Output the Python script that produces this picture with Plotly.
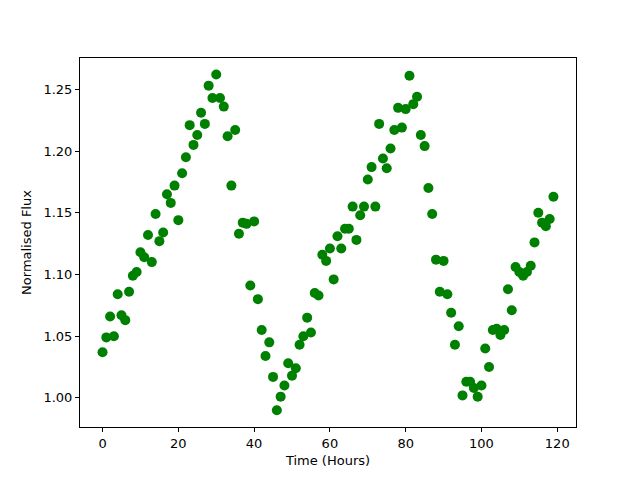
import plotly.graph_objects as go

hours = list(range(120))
flux = [
    1.037, 1.049, 1.066, 1.050, 1.084, 1.067, 1.063, 1.086, 1.099, 1.102,
    1.118, 1.114, 1.132, 1.110, 1.149, 1.127, 1.134, 1.165, 1.158, 1.172,
    1.144, 1.182, 1.195, 1.221, 1.205, 1.213, 1.231, 1.222, 1.253, 1.243,
    1.262, 1.243, 1.236, 1.212, 1.172, 1.217, 1.133, 1.142, 1.141, 1.091,
    1.143, 1.080, 1.055, 1.034, 1.045, 1.017, 0.990, 1.001, 1.010, 1.028,
    1.018, 1.024, 1.043, 1.050, 1.065, 1.053, 1.085, 1.083, 1.116, 1.111,
    1.121, 1.096, 1.131, 1.121, 1.137, 1.137, 1.155, 1.128, 1.148, 1.155,
    1.177, 1.187, 1.155, 1.222, 1.194, 1.186, 1.202, 1.217, 1.235, 1.219,
    1.234, 1.261, 1.238, 1.244, 1.213, 1.204, 1.170, 1.149, 1.112, 1.086,
    1.111, 1.084, 1.069, 1.043, 1.058, 1.002, 1.013, 1.013, 1.008, 1.001,
    1.010, 1.040, 1.025, 1.055, 1.056, 1.051, 1.055, 1.088, 1.071, 1.106,
    1.102, 1.099, 1.102, 1.107, 1.126, 1.150, 1.142, 1.139, 1.145, 1.163,
]
x_ticks = [0, 20, 40, 60, 80, 100, 120]
y_ticks = [1.00, 1.05, 1.10, 1.15, 1.20, 1.25]

fig = go.Figure(go.Scatter(
    x=hours, y=flux, mode="markers",
    marker=dict(color="#008000", size=10, line=dict(width=0)),
))

font = dict(family="DejaVu Sans", size=13, color="black")
axis_common = dict(
    showline=True, linecolor="black", linewidth=1, mirror=True,
    ticks="outside", ticklen=4, tickcolor="black", showgrid=False,
    zeroline=False, tickfont=font,
)
fig.update_layout(
    width=632, height=472,
    margin=dict(l=72, r=64, t=50, b=53),
    paper_bgcolor="white", plot_bgcolor="white",
    showlegend=False, font=font,
    xaxis=dict(range=[-5.95, 124.95], tickvals=x_ticks,
               title=dict(text="Time (Hours)", font=font, standoff=6), **axis_common),
    yaxis=dict(range=[0.9764, 1.2754], tickvals=y_ticks, tickformat=".2f",
               title=dict(text="Normalised Flux", font=font, standoff=8), **axis_common),
)
fig.write_html("out.html")
